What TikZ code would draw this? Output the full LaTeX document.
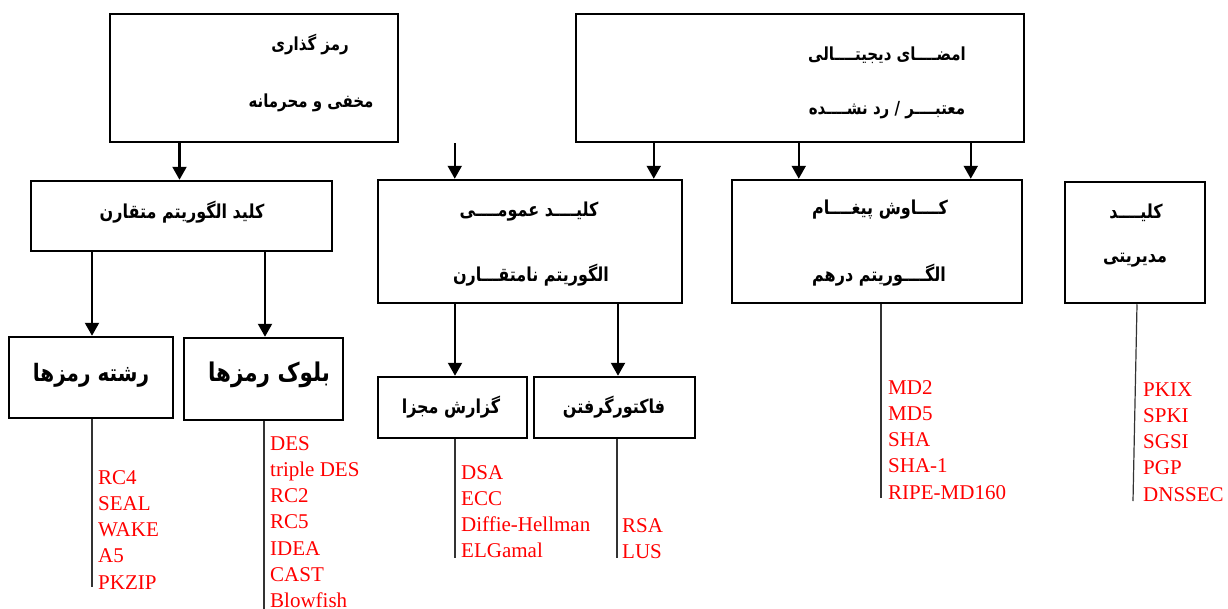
\documentclass[tikz,border=0pt]{standalone}
\usepackage{fontspec}
\usetikzlibrary{arrows.meta}
\TeXXeTstate=1
\newfontfamily\fafont[Script=Arabic]{DejaVu Sans}
\newfontfamily\listfont{Liberation Serif}
\definecolor{listred}{RGB}{255,0,0}
% right-to-left Persian line, set a little taller than the font's own shape
\newcommand\rl[1]{\scalebox{1}[1.2]{\beginR #1\endR}}

\begin{document}
\begin{tikzpicture}[x=1pt,y=-1pt,
  box/.style={draw, line width=2.5pt, inner sep=0pt},
  arr/.style={line width=2.2pt, -{Triangle[length=13pt,width=14pt]}},
  listline/.style={line width=1.2pt, draw=black!80},
  fasmall/.style={inner sep=0pt, font=\fafont\bfseries\fontsize{15}{17}\selectfont},
  famid/.style={inner sep=0pt, font=\fafont\bfseries\fontsize{16}{18}\selectfont},
  fabig/.style={inner sep=0pt, font=\fafont\bfseries\fontsize{20}{22}\selectfont},
  item/.style={anchor=base west, inner sep=0pt, text=listred, font=\listfont\fontsize{21}{24}\selectfont}]
\useasboundingbox (0,0) rectangle (1228,608);

% --- top row ---
\node[box, minimum width=288pt, minimum height=128pt] (crypt) at (254,78) {};
\node[box, minimum width=448pt, minimum height=128pt] (sig) at (800,78) {};
\node[fasmall] (cryptA) at (310,45) {\rl{رمز گذاری}};
\node[fasmall] (cryptB) at (311,103) {\rl{مخفی و محرمانه}};
\node[fasmall] (sigA) at (887,55) {\rl{امضــــای دیجیتــــالی}};
\node[fasmall] (sigB) at (887,110) {\rl{معتبــــر / رد نشــــده}};

% --- second row ---
\node[box, minimum width=301pt, minimum height=70pt] (sym) at (181.5,216) {};
\node[box, minimum width=304pt, minimum height=123pt] (pub) at (530,241.5) {};
\node[box, minimum width=290pt, minimum height=123pt] (hash) at (877,241.5) {};
\node[box, minimum width=140pt, minimum height=121pt] (key) at (1135,242.5) {};
\node[famid] (symA) at (182,212) {\rl{کلید الگوریتم متقارن}};
\node[famid] (pubA) at (529,212) {\rl{کلیــــد عمومــــی}};
\node[famid] (pubB) at (531,275) {\rl{الگوریتم نامتقـــارن}};
\node[famid] (hashA) at (880,210) {\rl{کــــاوش پیغــــام}};
\node[famid] (hashB) at (879,275) {\rl{الگــــوریتم درهم}};
\node[famid] (keyA) at (1136,213) {\rl{کلیــــد}};
\node[famid] (keyB) at (1135,260) {\rl{مدیریتی}};

% --- third row ---
\node[box, minimum width=164pt, minimum height=81pt] (stream) at (91,377.5) {};
\node[box, minimum width=159pt, minimum height=82pt] (block) at (263.5,379) {};
\node[box, minimum width=149pt, minimum height=61pt] (dl) at (452.5,407.5) {};
\node[box, minimum width=161pt, minimum height=61pt] (fac) at (614.5,407.5) {};
\node[fabig] (streamA) at (91,375) {\rl{رشته رمزها}};
\node[fabig, font=\fafont\bfseries\fontsize{21.5}{23}\selectfont] (blockA) at (269,375) {\rl{بلوک رمزها}};
\node[famid] (dlA) at (451,407) {\rl{گزارش مجزا}};
\node[famid] (facA) at (614,407) {\rl{فاکتورگرفتن}};

% --- arrows ---
\draw[arr] ([xshift=-2pt]sym.north |- crypt.south) -- ([xshift=-2pt]sym.north);
\draw[arr] ([xshift=78pt]pub.north west |- crypt.south) -- ([xshift=78pt]pub.north west);
\draw[arr] ([xshift=277pt]pub.north west |- sig.south) -- ([xshift=277pt]pub.north west);
\draw[arr] ([xshift=68pt]hash.north west |- sig.south) -- ([xshift=68pt]hash.north west);
\draw[arr] ([xshift=240pt]hash.north west |- sig.south) -- ([xshift=240pt]hash.north west);
\draw[arr] ([xshift=1pt]stream.north |- sym.south) -- ([xshift=1pt]stream.north);
\draw[arr] ([xshift=1.5pt]block.north |- sym.south) -- ([xshift=1.5pt]block.north);
\draw[arr] ([xshift=2.5pt]dl.north |- pub.south) -- ([xshift=2.5pt]dl.north);
\draw[arr] ([xshift=3.5pt]fac.north |- pub.south) -- ([xshift=3.5pt]fac.north);

% --- algorithm lists ---
\coordinate (stEnd) at (92,587);
\coordinate (blEnd) at (264,610);
\coordinate (dlEnd) at (455,558);
\coordinate (faEnd) at (617,558);
\coordinate (haEnd) at (881,498);
\coordinate (keEnd) at (1133,501);
\draw[listline] (stEnd |- stream.south) -- (stEnd);
\draw[listline] (blEnd |- block.south) -- (blEnd);
\draw[listline] (dlEnd |- dl.south) -- (dlEnd);
\draw[listline] (faEnd |- fac.south) -- (faEnd);
\draw[listline] (haEnd |- hash.south) -- (haEnd);
\draw[listline] ([xshift=2pt]key.south) -- (keEnd);

\foreach \t [count=\i] in {RC4,SEAL,WAKE,A5,PKZIP}
  \node[item] (st\i) at (98,{484+26.3*(\i-1)}) {\t};
\foreach \t [count=\i] in {DES,triple DES,RC2,RC5,IDEA,CAST,Blowfish}
  \node[item] (bl\i) at (270,{450+26.3*(\i-1)}) {\t};
\foreach \t [count=\i] in {DSA,ECC,Diffie-Hellman,ELGamal}
  \node[item] (dl\i) at (461,{479+26.3*(\i-1)}) {\t};
\foreach \t [count=\i] in {RSA,LUS}
  \node[item] (fa\i) at (622,{532+26.3*(\i-1)}) {\t};
\foreach \t [count=\i] in {MD2,MD5,SHA,SHA-1,RIPE-MD160}
  \node[item] (ha\i) at (888,{394+26.3*(\i-1)}) {\t};
\foreach \t [count=\i] in {PKIX,SPKI,SGSI,PGP,DNSSEC}
  \node[item] (ke\i) at (1143,{396+26.3*(\i-1)}) {\t};
\end{tikzpicture}
\end{document}
